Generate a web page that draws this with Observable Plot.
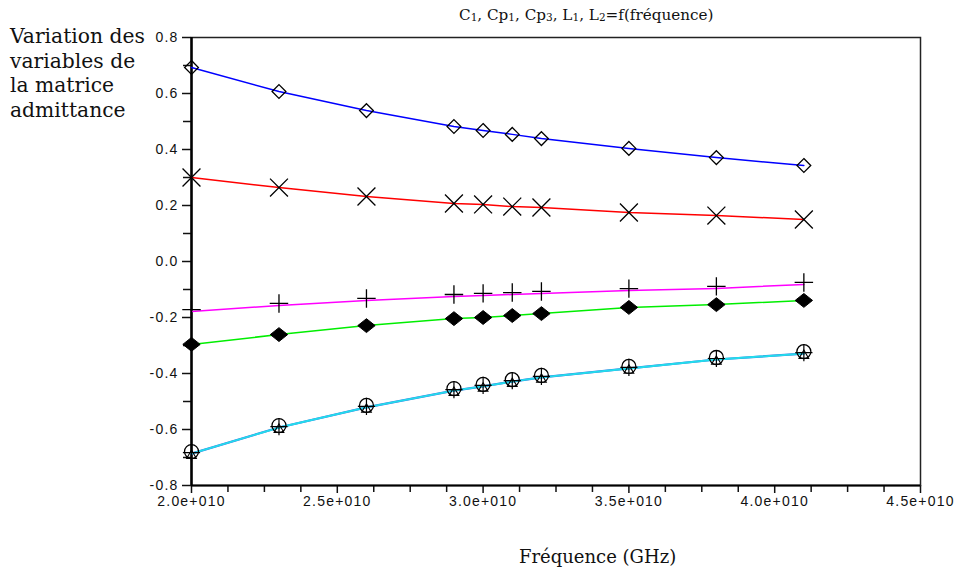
<!DOCTYPE html>
<html>
<head>
<meta charset="utf-8">
<script src="https://cdn.jsdelivr.net/npm/d3@7"></script>
<script src="https://cdn.jsdelivr.net/npm/@observablehq/plot@0.6"></script>
<style>
  html, body { margin: 0; padding: 0; background: #fff; }
  #wrap { position: relative; width: 957px; height: 572px; overflow: hidden; }
  .lbl { position: absolute; font-family: "DejaVu Serif", serif; color: #111; white-space: nowrap; }
  #title { top: 6px; left: 459px; font-size: 15.2px; }
  #title sub { font-size: 10.5px; vertical-align: -1px; }
  #ylab { top: 24px; left: 10px; font-size: 20.3px; line-height: 24.5px; }
  #xlab { top: 546px; left: 519px; font-size: 18px; }
  svg g[aria-label="y-axis tick label"] text,
  svg g[aria-label="x-axis tick label"] text { letter-spacing: 1.2px; }
</style>
</head>
<body>
<div id="wrap">
  <div class="lbl" id="title">C<sub>1</sub>, Cp<sub>1</sub>, Cp<sub>3</sub>, L<sub>1</sub>, L<sub>2</sub>=f(fréquence)</div>
  <div class="lbl" id="ylab">Variation des<br>variables de<br>la matrice<br>admittance</div>
  <div class="lbl" id="xlab">Fréquence (GHz)</div>
</div>
<script>
// Frequencies (Hz)
const frequency = [2.0e10, 2.3e10, 2.6e10, 2.9e10, 3.0e10, 3.1e10, 3.2e10, 3.5e10, 3.8e10, 4.1e10];

// Series values
const seriesC1  = [0.693, 0.607, 0.539, 0.482, 0.468, 0.454, 0.439, 0.404, 0.371, 0.343];
const seriesCp1 = [0.300, 0.264, 0.232, 0.207, 0.204, 0.196, 0.193, 0.175, 0.164, 0.150];
const seriesCp3 = [-0.179, -0.157, -0.139, -0.125, -0.121, -0.118, -0.114, -0.104, -0.096, -0.082];
const seriesL1  = [-0.296, -0.261, -0.229, -0.204, -0.200, -0.193, -0.186, -0.164, -0.154, -0.139];
const seriesL2  = [-0.686, -0.593, -0.521, -0.461, -0.446, -0.429, -0.414, -0.382, -0.350, -0.329];

// Ticks
const yMajorTicks = [-0.8, -0.6, -0.4, -0.2, 0.0, 0.2, 0.4, 0.6, 0.8];
const yMajorLabels = ["-0.8", "-0.6", "-0.4", "-0.2", "0.0", "0.2", "0.4", "0.6", "0.8"];
const yMinorTicks = [-0.7, -0.5, -0.3, -0.1, 0.1, 0.3, 0.5, 0.7];
const xMajorTicks = [2.0e10, 2.5e10, 3.0e10, 3.5e10, 4.0e10, 4.5e10];
const xMajorLabels = ["2.0e+010", "2.5e+010", "3.0e+010", "3.5e+010", "4.0e+010", "4.5e+010"];
const xMinorTicks = [2.125e10, 2.25e10, 2.375e10, 2.625e10, 2.75e10, 2.875e10, 3.125e10, 3.25e10, 3.375e10,
                     3.625e10, 3.75e10, 3.875e10, 4.125e10, 4.25e10, 4.375e10];

const toRows = (vals) => frequency.map((f, i) => ({f, v: vals[i]}));
const dC1 = toRows(seriesC1), dCp1 = toRows(seriesCp1), dCp3 = toRows(seriesCp3),
      dL1 = toRows(seriesL1), dL2 = toRows(seriesL2);

const wideDiamond = {
  draw(ctx, size) {
    const r = Math.sqrt(size) * 0.5;
    ctx.moveTo(0, -r * 0.8); ctx.lineTo(r, 0); ctx.lineTo(0, r * 0.8); ctx.lineTo(-r, 0); ctx.closePath();
  }
};

const nearest = (arr, d) => arr.findIndex(t => Math.abs(t - d) < 1e-6 * Math.max(1, Math.abs(t)));

const chart = Plot.plot({
  width: 957,
  height: 572,
  marginLeft: 191,
  marginRight: 37,
  marginTop: 37,
  marginBottom: 87,
  style: {fontFamily: "'Liberation Sans', Arial, sans-serif", fontSize: "14px", color: "#111", background: "transparent"},
  x: {domain: [2.0e10, 4.5e10]},
  y: {domain: [-0.8, 0.8]},
  marks: [
    Plot.axisY({ticks: yMajorTicks, tickSize: 9, tickPadding: 4, label: null,
                tickFormat: d => yMajorLabels[nearest(yMajorTicks, d)], strokeWidth: 1.5}),
    Plot.axisY({ticks: yMinorTicks, tickSize: 8, label: null, tickFormat: () => "", strokeWidth: 1.5}),
    Plot.axisX({ticks: xMajorTicks, tickSize: 8, tickPadding: 3, label: null,
                tickFormat: d => xMajorLabels[nearest(xMajorTicks, d)], strokeWidth: 1.5}),
    Plot.axisX({ticks: xMinorTicks, tickSize: 7, label: null, tickFormat: () => "", strokeWidth: 1.5}),
    Plot.frame({stroke: "#222", strokeWidth: 1.5}),
    Plot.ruleX([2.0e10], {stroke: "#000", strokeWidth: 2.5}),
    Plot.ruleY([-0.8], {stroke: "#000", strokeWidth: 2}),

    Plot.line(dC1, {x: "f", y: "v", stroke: "#0000ff", strokeWidth: 1.5}),
    Plot.line(dCp1, {x: "f", y: "v", stroke: "#ff0000", strokeWidth: 1.5}),
    Plot.line(dCp3, {x: "f", y: "v", stroke: "#ff00ff", strokeWidth: 1.5}),
    Plot.line(dL1, {x: "f", y: "v", stroke: "#00ee00", strokeWidth: 1.5}),
    Plot.line(dL2, {x: "f", y: "v", stroke: "#4070e0", strokeWidth: 2.2}),
    Plot.line(dL2, {x: "f", y: "v", stroke: "#22dcec", strokeWidth: 1.9}),

    Plot.dot(dC1, {x: "f", y: "v", symbol: "diamond2", r: 6.2, stroke: "#000", fill: "none", strokeWidth: 1.3}),
    Plot.dot(dCp1, {x: "f", y: "v", symbol: "times", r: 8.2, stroke: "#000", strokeWidth: 1.3}),
    Plot.dot(dCp3, {x: "f", y: "v", symbol: "plus", r: 6, stroke: "#000", strokeWidth: 1.3, dy: -2}),
    Plot.dot(dL1, {x: "f", y: "v", symbol: wideDiamond, r: 9.8, fill: "#000", stroke: "#000", strokeWidth: 1}),
    Plot.dot(dL2, {x: "f", y: "v", symbol: "circle", r: 7, stroke: "#000", fill: "none", strokeWidth: 1.3, dy: -2}),
    Plot.dot(dL2, {x: "f", y: "v", symbol: "plus", r: 5.6, stroke: "#000", strokeWidth: 1.2, dy: -1}),
    Plot.dot(dL2, {x: "f", y: "v", symbol: "triangle", r: 3.6, stroke: "#000", fill: "none", strokeWidth: 1.1, dy: 2})
  ]
});

chart.style.position = "absolute";
chart.style.left = "0px";
chart.style.top = "0px";
document.getElementById("wrap").prepend(chart);
</script>
</body>
</html>
